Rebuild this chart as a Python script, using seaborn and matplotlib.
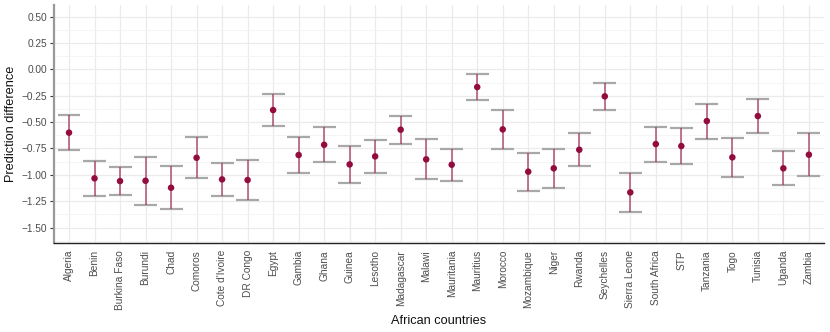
import matplotlib
matplotlib.use("Agg")
import matplotlib.pyplot as plt
import seaborn as sns
import pandas as pd
import numpy as np
from matplotlib.ticker import MultipleLocator, FixedLocator

countries = ["Algeria", "Benin", "Burkina Faso", "Burundi", "Chad", "Comoros",
             "Cote d'Ivoire", "DR Congo", "Egypt", "Gambia", "Ghana", "Guinea",
             "Lesotho", "Madagascar", "Malawi", "Mauritania", "Mauritius", "Morocco",
             "Mozambique", "Niger", "Rwanda", "Seychelles", "Sierra Leone",
             "South Africa", "STP", "Tanzania", "Togo", "Tunisia", "Uganda", "Zambia"]
estimate = [-0.600, -1.033, -1.059, -1.056, -1.122, -0.838, -1.043, -1.049, -0.386, -0.812,
            -0.715, -0.901, -0.825, -0.572, -0.853, -0.904, -0.168, -0.569, -0.970, -0.938,
            -0.762, -0.256, -1.166, -0.708, -0.727, -0.490, -0.834, -0.443, -0.938, -0.809]
upper = [-0.433, -0.869, -0.923, -0.828, -0.920, -0.642, -0.885, -0.860, -0.237, -0.645,
         -0.547, -0.727, -0.673, -0.443, -0.664, -0.752, -0.047, -0.389, -0.796, -0.758,
         -0.607, -0.127, -0.980, -0.544, -0.553, -0.326, -0.648, -0.282, -0.774, -0.604]
lower = [-0.765, -1.198, -1.195, -1.283, -1.321, -1.033, -1.201, -1.236, -0.534, -0.980,
         -0.882, -1.078, -0.980, -0.705, -1.043, -1.059, -0.288, -0.752, -1.150, -1.122,
         -0.914, -0.386, -1.350, -0.876, -0.895, -0.658, -1.024, -0.607, -1.100, -1.015]
y_ticks = [0.50, 0.25, 0.00, -0.25, -0.50, -0.75, -1.00, -1.25, -1.50]

df = pd.DataFrame({"country": countries, "estimate": estimate,
                   "upper": upper, "lower": lower})

sns.set_theme(style="white")
plt.rcParams["font.family"] = ["Liberation Sans", "DejaVu Sans"]
plt.rcParams["axes.unicode_minus"] = True

fig = plt.figure(figsize=(8.30, 3.32), dpi=100)
ax = fig.add_axes([0.0647, 0.268, 0.9283, 0.717])

pos = np.arange(len(df))
ax.hlines(df["upper"], pos - 0.45, pos + 0.45, color="#a8a8a8", lw=1.6, zorder=2)
ax.hlines(df["lower"], pos - 0.45, pos + 0.45, color="#a8a8a8", lw=1.6, zorder=2)
ax.vlines(pos, df["lower"], df["upper"], color="#a3325f", lw=1.1, alpha=0.85, zorder=3)
sns.scatterplot(data=df, x="country", y="estimate", ax=ax, color="#930c3e",
                s=22, edgecolor="none", zorder=4, legend=False)

ax.set_xlim(-0.6, len(df) - 1 + 0.6)
ax.set_ylim(-1.646, 0.61)
ax.yaxis.set_major_locator(FixedLocator(y_ticks))
ax.yaxis.set_minor_locator(MultipleLocator(0.125))
ax.set_yticklabels([f"{v:.2f}".replace("-", "\u2212") for v in y_ticks])

ax.grid(True, which="major", color="#ebebeb", lw=0.9, zorder=0)
ax.grid(True, which="minor", axis="y", color="#f4f4f4", lw=0.7, zorder=0)
ax.set_axisbelow(True)

for s in ["top", "right"]:
    ax.spines[s].set_visible(False)
ax.spines["left"].set_color("#999999")
ax.spines["left"].set_linewidth(1.6)
ax.spines["bottom"].set_color("#222222")
ax.spines["bottom"].set_linewidth(1.0)

ax.tick_params(axis="x", which="major", length=3, width=0.8, color="#333333",
               labelsize=7.3, labelcolor="#4d4d4d", labelrotation=90, pad=2)
ax.tick_params(axis="y", which="major", length=3, width=0.8, color="#333333",
               labelsize=7.3, labelcolor="#4d4d4d", pad=2, left=True)
ax.tick_params(axis="y", which="minor", length=0)
for lab in ax.get_xticklabels():
    lab.set_ha("center")
    lab.set_va("top")

ax.set_xlabel("African countries", fontsize=9.2, color="#111111", labelpad=4)
ax.set_ylabel("Prediction difference", fontsize=9.2, color="#111111")
ax.yaxis.set_label_coords(-0.0475, 0.5)

fig.savefig("out.png", dpi=100)
